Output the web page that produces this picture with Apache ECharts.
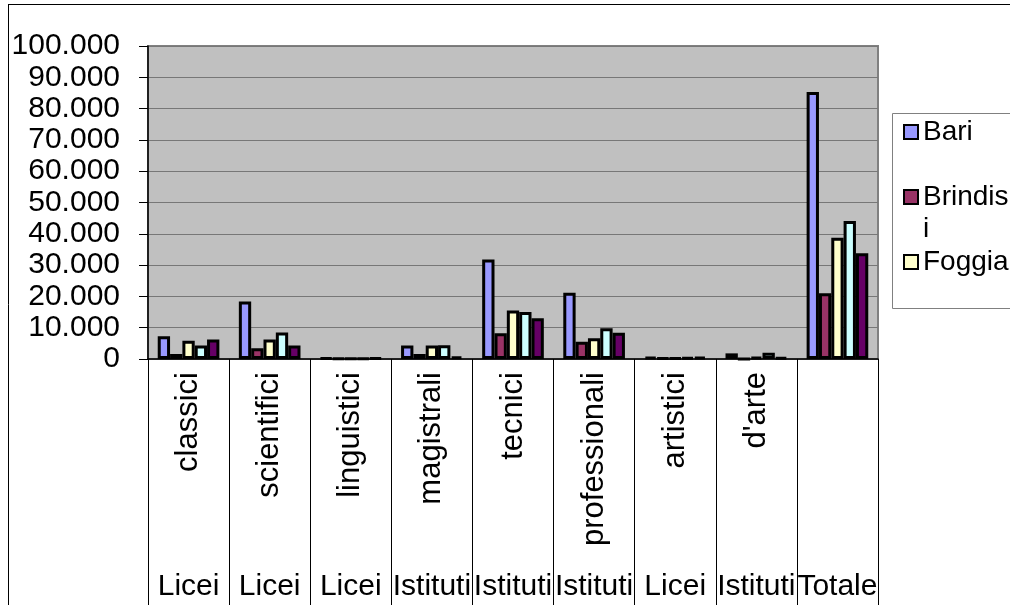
<!DOCTYPE html>
<html>
<head>
<meta charset="utf-8">
<script src="https://cdn.jsdelivr.net/npm/echarts@6/dist/echarts.min.js"></script>
<style>
html,body{margin:0;padding:0;background:#fff;}
#chart{width:1010px;height:605px;}
</style>
</head>
<body>
<div id="chart"></div>
<script>
// Categories (two-level axis)
const categories = ['classici', 'scientifici', 'linguistici', 'magistrali', 'tecnici', 'professionali', 'artistici', "d'arte", ''];
const groups = ['Licei', 'Licei', 'Licei', 'Istituti', 'Istituti', 'Istituti', 'Licei', 'Istituti', 'Totale'];
// Series values
const bari     = [7300, 18400, 300, 4300, 31800, 21200, 600, 1800, 85300];
const brindisi = [1600, 3400, 200, 1600, 8200, 5500, 250, 0, 21000];
const foggia   = [5800, 6200, 100, 4300, 15500, 6600, 250, 700, 38700];
const lecce    = [4300, 8500, 200, 4400, 15000, 9800, 450, 2000, 44100];
const taranto  = [6200, 4300, 250, 800, 13000, 8400, 700, 500, 33800];
const seriesNames = ['Bari', 'Brindisi', 'Foggia', 'Lecce', 'Taranto'];
const legendNames = ['Bari', 'Brindisi', 'Foggia'];
// Y ticks
const yMin = 0, yMax = 100000, yStep = 10000;

const FONT = 'Liberation Sans, Arial, sans-serif';
const colors = ['#9999FF', '#993366', '#FFFFCC', '#CCFFFF', '#660066'];
const values = [bari, brindisi, foggia, lecce, taranto];

function fmt(v) { return String(v).replace(/\B(?=(\d{3})+(?!\d))/g, '.'); }

const chart = echarts.init(document.getElementById('chart'));
chart.setOption({
  animation: false,
  backgroundColor: '#fff',
  textStyle: { fontFamily: FONT },
  graphic: [
    { type: 'line', shape: { x1: 8, y1: 4.5, x2: 1010, y2: 4.5 }, style: { stroke: '#000', lineWidth: 1 }, z: 100 },
    { type: 'line', shape: { x1: 8.5, y1: 4, x2: 8.5, y2: 605 }, style: { stroke: '#000', lineWidth: 1 }, z: 100 },
    { type: 'rect', shape: { x: 892.5, y: 113.5, width: 140, height: 195 }, style: { fill: '#fff', stroke: '#808080', lineWidth: 1 }, z: 0 }
  ],
  grid: {
    left: 148, right: 132, top: 46, bottom: 246,
    show: true, backgroundColor: '#C0C0C0', borderColor: '#808080', borderWidth: 2
  },
  legend: {
    orient: 'vertical', left: 903, top: 116, padding: 0, itemGap: 1,
    itemWidth: 14, itemHeight: 14, icon: 'rect',
    data: legendNames,
    formatter: n => n === 'Brindisi' ? ' \nBrindis\ni' : n,
    textStyle: { fontFamily: FONT, fontSize: 28, color: '#000', lineHeight: 32 }
  },
  xAxis: [
    {
      type: 'category', data: categories, position: 'bottom',
      axisLine: { lineStyle: { color: '#000', width: 1.5 } },
      axisTick: { show: true, interval: 0, length: 250, lineStyle: { color: '#000', width: 1 } },
      axisLabel: { interval: 0, rotate: 90, margin: 13, fontFamily: FONT, fontSize: 31, color: '#000' },
      splitLine: { show: false }
    },
    {
      type: 'category', data: groups, position: 'bottom',
      axisLine: { show: false }, axisTick: { show: false }, splitLine: { show: false },
      axisLabel: { interval: 0, margin: 213, fontFamily: FONT, fontSize: 30, color: '#000' }
    }
  ],
  yAxis: {
    type: 'value', min: yMin, max: yMax, interval: yStep,
    axisLine: { show: true, lineStyle: { color: '#000', width: 1.5 } },
    axisTick: { show: true, length: 9, lineStyle: { color: '#000', width: 1 } },
    axisLabel: { formatter: fmt, margin: 28, fontFamily: FONT, fontSize: 30, color: '#000' },
    splitLine: { show: true, lineStyle: { color: '#777', width: 1.2 } }
  },
  series: seriesNames.map((n, i) => ({
    name: n, type: 'bar', xAxisIndex: 0, data: values[i],
    barGap: '0%', barCategoryGap: '24%',
    itemStyle: { color: colors[i], borderColor: '#000', borderWidth: 3 }
  }))
});
</script>
</body>
</html>
